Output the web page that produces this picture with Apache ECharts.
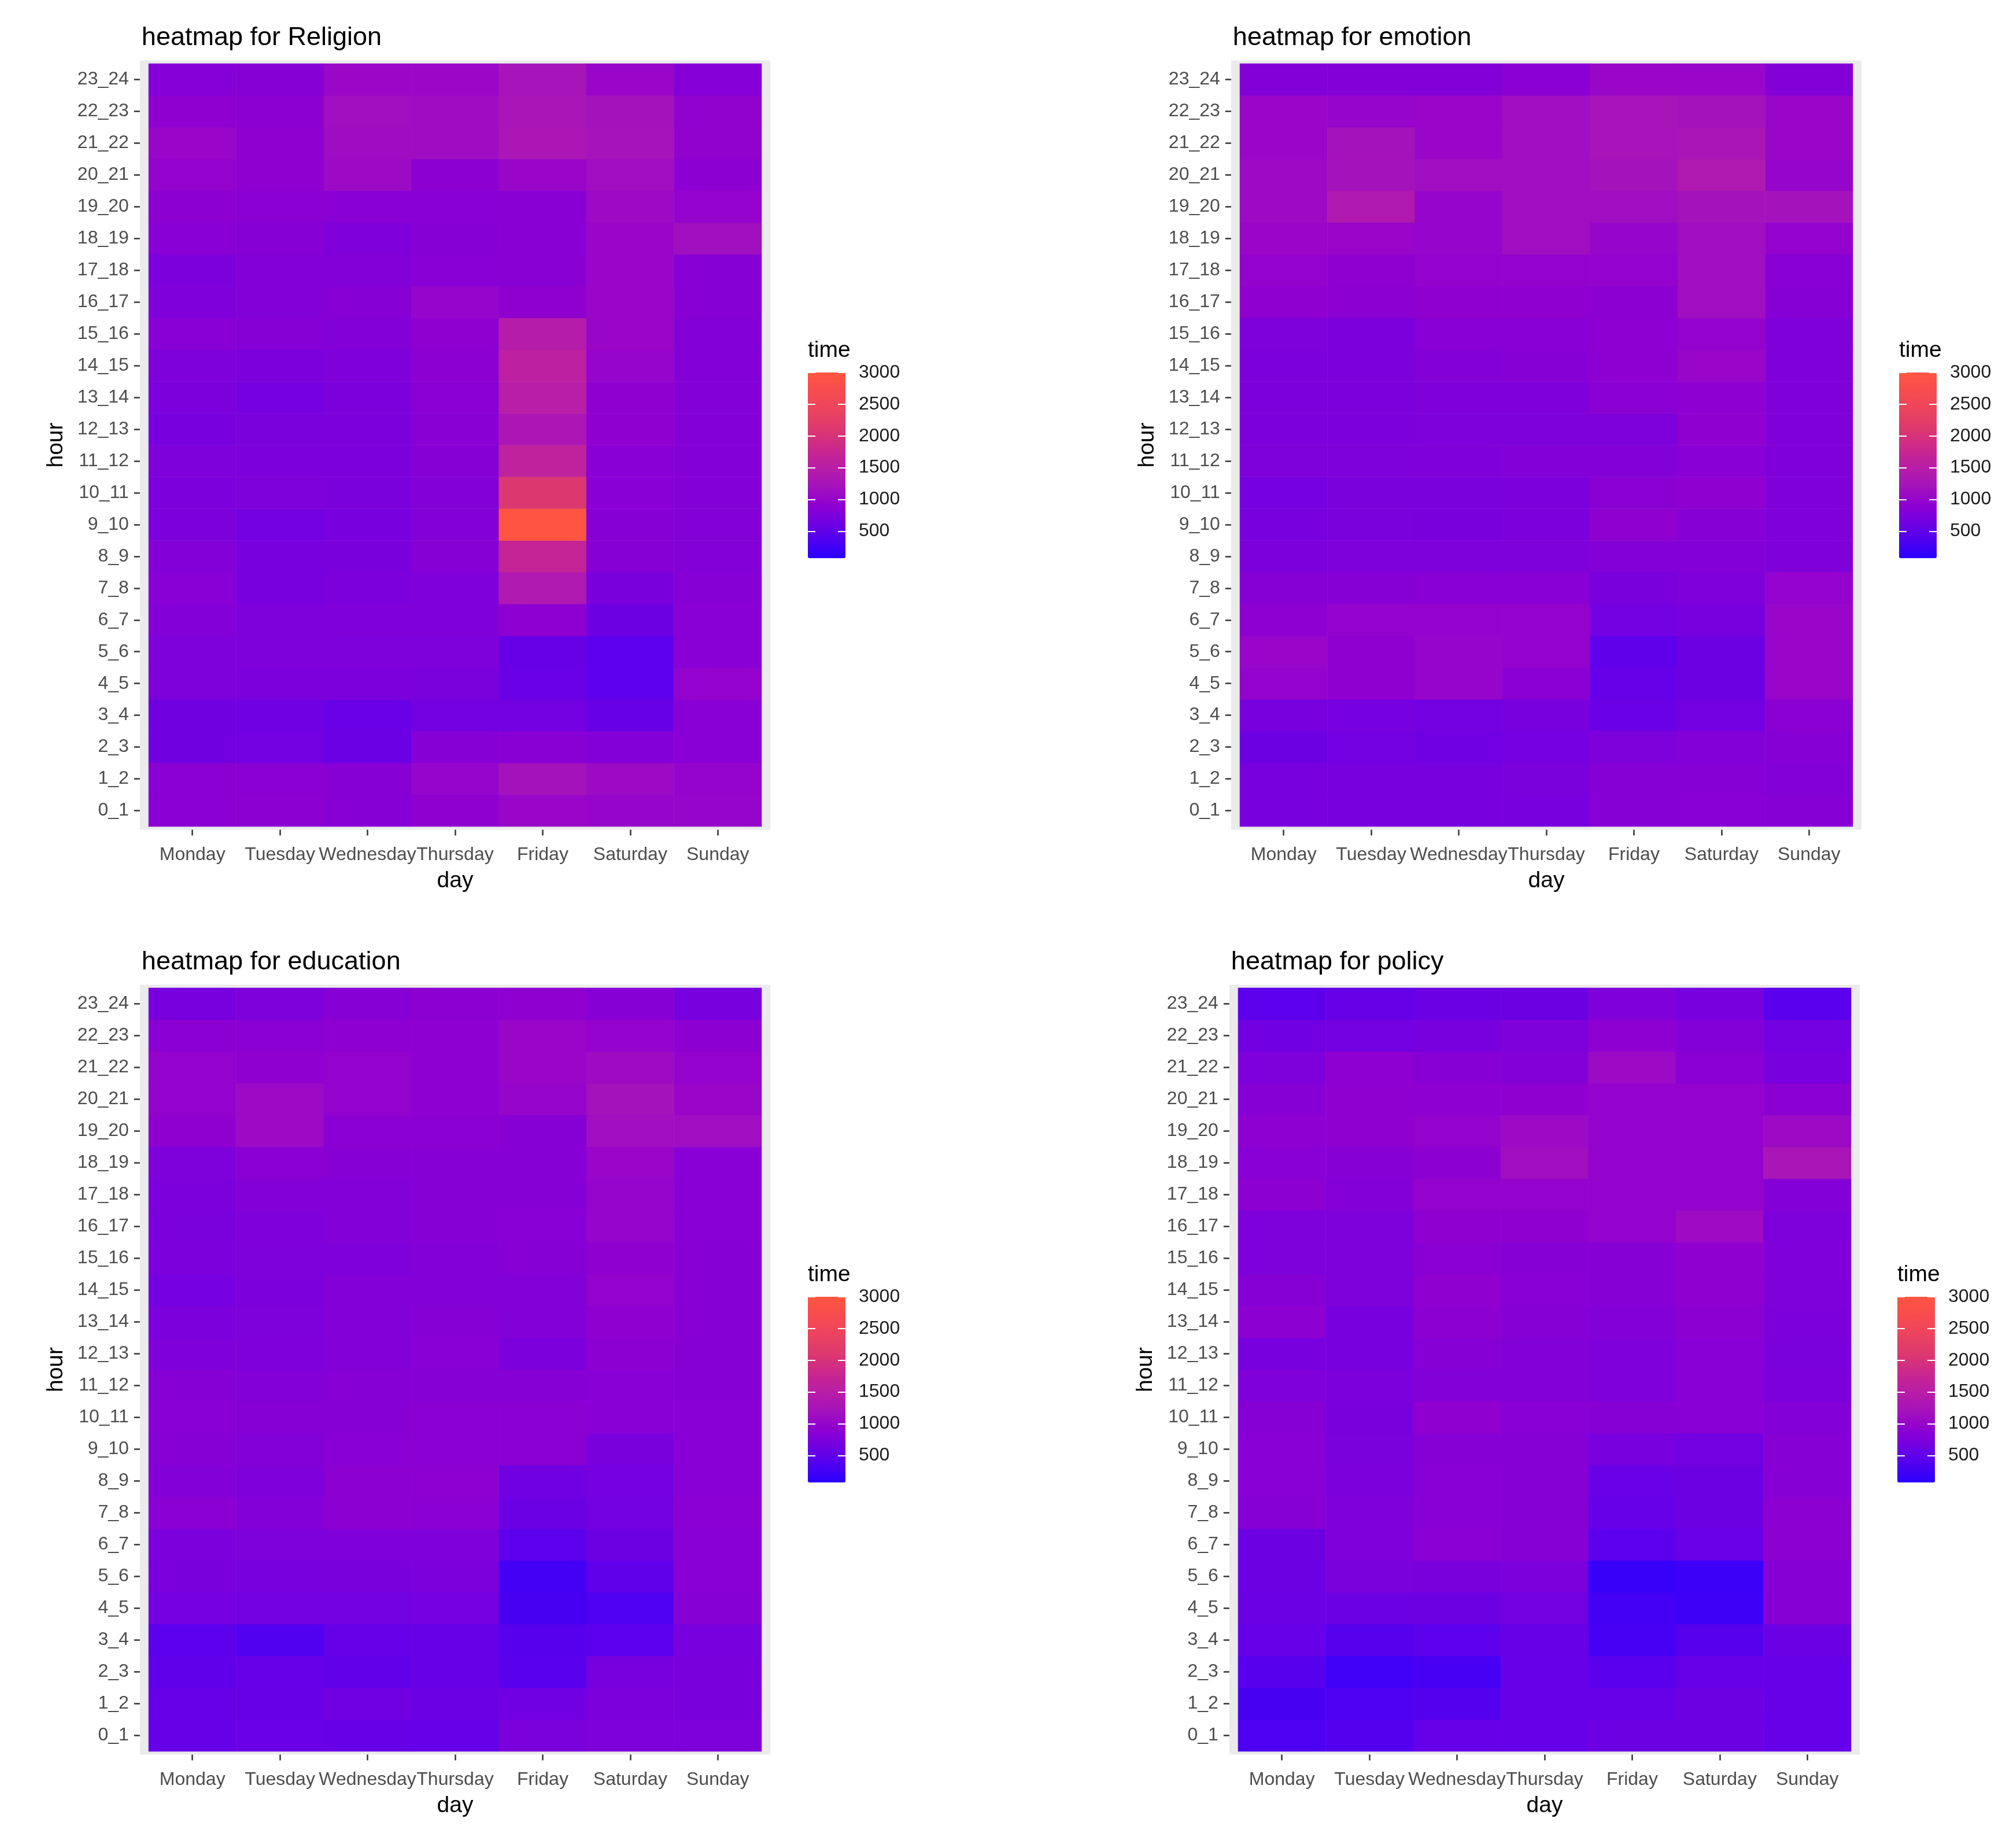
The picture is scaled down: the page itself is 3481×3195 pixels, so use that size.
<!DOCTYPE html>
<html>
<head>
<meta charset="utf-8">
<title>heatmaps by day and hour</title>
<script src="https://cdn.jsdelivr.net/npm/echarts@6/dist/echarts.min.js"></script>
<style>
  html, body { margin: 0; padding: 0; background: #ffffff; }
  #chart { width: 3481px; height: 3195px; }
</style>
</head>
<body>
<div id="chart"></div>
<script>
// categories
const days = ["Monday", "Tuesday", "Wednesday", "Thursday", "Friday", "Saturday", "Sunday"];
const hours = ["0_1", "1_2", "2_3", "3_4", "4_5", "5_6", "6_7", "7_8", "8_9", "9_10", "10_11", "11_12",
  "12_13", "13_14", "14_15", "15_16", "16_17", "17_18", "18_19", "19_20", "20_21", "21_22", "22_23", "23_24"];

// one row per hour (0_1 first), Monday .. Sunday
const religion = [
  [870, 890, 830, 930, 1040, 1000, 1000],
  [870, 870, 830, 1000, 1200, 1080, 990],
  [640, 660, 600, 830, 860, 810, 850],
  [640, 630, 580, 660, 660, 560, 850],
  [760, 740, 740, 720, 580, 470, 980],
  [760, 760, 760, 760, 560, 470, 850],
  [810, 760, 780, 780, 910, 610, 850],
  [850, 700, 740, 780, 1370, 710, 830],
  [810, 700, 710, 830, 1700, 830, 810],
  [740, 660, 700, 810, 2980, 830, 810],
  [740, 760, 720, 810, 2100, 850, 810],
  [760, 740, 740, 830, 1620, 850, 810],
  [700, 720, 740, 860, 1300, 930, 810],
  [740, 680, 740, 870, 1500, 930, 810],
  [760, 740, 780, 890, 1570, 1000, 810],
  [850, 830, 810, 930, 1450, 1040, 810],
  [770, 810, 830, 1000, 930, 1040, 830],
  [740, 810, 810, 850, 860, 1030, 830],
  [850, 830, 780, 830, 860, 1040, 1150],
  [900, 870, 850, 850, 860, 1080, 970],
  [980, 920, 1080, 890, 1040, 1140, 890],
  [1030, 920, 1120, 1120, 1300, 1230, 960],
  [930, 900, 1150, 1120, 1270, 1200, 960],
  [820, 830, 1050, 1050, 1250, 1020, 820]
];

const emotion = [
  [700, 700, 700, 700, 830, 850, 830],
  [700, 700, 700, 720, 830, 830, 810],
  [610, 660, 630, 680, 760, 810, 830],
  [700, 680, 660, 700, 580, 660, 870],
  [980, 930, 1000, 870, 530, 610, 1020],
  [1020, 930, 1000, 980, 490, 610, 1020],
  [910, 980, 980, 980, 660, 700, 1020],
  [830, 830, 850, 850, 710, 780, 980],
  [740, 760, 760, 760, 810, 810, 780],
  [700, 720, 710, 740, 930, 830, 780],
  [680, 720, 720, 740, 870, 930, 780],
  [760, 760, 780, 810, 810, 850, 780],
  [740, 740, 760, 760, 760, 930, 780],
  [740, 740, 780, 780, 870, 910, 780],
  [740, 740, 810, 830, 910, 1020, 780],
  [760, 740, 850, 850, 910, 980, 780],
  [930, 890, 930, 930, 890, 1140, 830],
  [980, 930, 980, 980, 980, 1140, 850],
  [1040, 1020, 1000, 1140, 1000, 1140, 980],
  [1080, 1370, 1000, 1140, 1140, 1200, 1200],
  [1080, 1200, 1140, 1140, 1200, 1370, 1000],
  [1040, 1200, 1040, 1140, 1260, 1270, 1040],
  [1040, 1000, 1020, 1140, 1260, 1200, 1040],
  [810, 810, 810, 870, 1040, 1020, 810]
];

const education = [
  [540, 580, 560, 530, 720, 760, 760],
  [530, 560, 630, 600, 630, 740, 710],
  [490, 530, 510, 560, 430, 700, 710],
  [460, 380, 530, 560, 410, 460, 700],
  [680, 660, 660, 680, 300, 360, 830],
  [710, 700, 710, 740, 270, 490, 850],
  [740, 760, 780, 780, 470, 610, 850],
  [870, 810, 890, 870, 600, 660, 870],
  [810, 780, 890, 910, 630, 680, 850],
  [830, 810, 850, 870, 870, 710, 850],
  [850, 830, 830, 870, 870, 850, 850],
  [830, 810, 830, 830, 830, 850, 830],
  [780, 780, 810, 850, 740, 890, 830],
  [740, 760, 810, 830, 810, 930, 830],
  [680, 740, 810, 810, 810, 980, 830],
  [740, 760, 780, 810, 830, 930, 830],
  [720, 780, 810, 830, 850, 1000, 850],
  [740, 810, 810, 830, 830, 1000, 850],
  [760, 870, 830, 830, 830, 1020, 850],
  [930, 1080, 870, 870, 830, 1140, 1140],
  [980, 1080, 980, 910, 1000, 1200, 1040],
  [980, 930, 980, 910, 1040, 1100, 980],
  [870, 870, 910, 910, 1040, 980, 890],
  [700, 760, 830, 890, 930, 830, 700]
];

const policy = [
  [350, 390, 530, 530, 610, 610, 530],
  [300, 350, 390, 530, 530, 610, 530],
  [410, 240, 290, 530, 440, 530, 530],
  [530, 420, 470, 560, 290, 420, 600],
  [600, 600, 610, 660, 270, 230, 830],
  [610, 720, 710, 740, 180, 210, 830],
  [610, 780, 870, 830, 460, 580, 890],
  [830, 780, 850, 830, 530, 610, 890],
  [850, 740, 850, 830, 580, 610, 830],
  [850, 720, 830, 830, 700, 660, 830],
  [830, 710, 930, 850, 830, 850, 810],
  [780, 740, 810, 810, 780, 850, 740],
  [700, 700, 830, 810, 780, 850, 720],
  [890, 700, 890, 830, 810, 890, 740],
  [830, 760, 930, 850, 830, 930, 760],
  [760, 760, 870, 830, 830, 930, 780],
  [760, 760, 930, 930, 980, 1100, 760],
  [890, 810, 980, 980, 980, 980, 810],
  [850, 830, 890, 1140, 980, 980, 1270],
  [910, 930, 980, 1080, 980, 980, 1080],
  [830, 930, 910, 930, 980, 980, 870],
  [760, 910, 830, 810, 1080, 870, 700],
  [630, 660, 700, 760, 910, 810, 660],
  [460, 540, 600, 610, 780, 700, 440]
];

// colour scale (time)
const scaleMin = 75;
const scaleMax = 3000;
const legendBreaks = [0, 500, 1000, 1500, 2000, 2500, 3000];

const FONT = "Liberation Sans, Arial, sans-serif";

// gradient stops
const rampStops = [
  [75, "#2800ff"], [270, "#4400f4"], [460, "#5c00ec"], [700, "#7800de"],
  [930, "#9000d0"], [1200, "#a412bc"], [1500, "#b81ea6"], [1700, "#c42396"],
  [2100, "#dc3870"], [2500, "#f0465a"], [3000, "#ff5540"]
];

function hexToRgb(h) {
  return [parseInt(h.slice(1, 3), 16), parseInt(h.slice(3, 5), 16), parseInt(h.slice(5, 7), 16)];
}

// evenly spaced colours for visualMap (it spreads colours evenly over min..max)
function buildRamp(n) {
  const out = [];
  for (let k = 0; k < n; k++) {
    const v = scaleMin + (scaleMax - scaleMin) * k / (n - 1);
    let j = 0;
    while (j < rampStops.length - 2 && v > rampStops[j + 1][0]) j++;
    const a = rampStops[j], b = rampStops[j + 1];
    const t = Math.min(1, Math.max(0, (v - a[0]) / (b[0] - a[0])));
    const ca = hexToRgb(a[1]), cb = hexToRgb(b[1]);
    const c = ca.map((x, i) => Math.round(x + (cb[i] - x) * t));
    out.push("rgb(" + c.join(",") + ")");
  }
  return out;
}
const ramp = buildRamp(118);

const panels = [
  { name: "Religion", values: religion, left: 257, top: 110, width: 1060, height: 1319 },
  { name: "emotion", values: emotion, left: 2144, top: 110, width: 1060, height: 1319 },
  { name: "education", values: education, left: 257, top: 1708, width: 1060, height: 1320 },
  { name: "policy", values: policy, left: 2141, top: 1708, width: 1060, height: 1320 }
];

const option = {
  animation: false,
  backgroundColor: "#ffffff",
  textStyle: { fontFamily: FONT },
  title: [],
  grid: [],
  xAxis: [],
  yAxis: [],
  series: [],
  visualMap: [],
  graphic: []
};

const barW = 65;
const barH = 321;
const axisH = barH * scaleMax / (scaleMax - scaleMin);

// axis line kept (so ticks draw) but invisible
const hiddenLine = { show: true, lineStyle: { opacity: 0 } };
const darkTick = { show: true, alignWithLabel: true, interval: 0, length: 10, lineStyle: { color: "#333333", width: 2.5 } };

panels.forEach((p, i) => {
  const colW = p.width / days.length;
  const rowH = p.height / hours.length;
  const padX = colW * 0.1;
  const padY = rowH * 0.1;

  option.title.push({
    text: "heatmap for " + p.name,
    left: p.left - padX + 3,
    top: p.top - 67,
    padding: 0,
    textStyle: { fontFamily: FONT, fontSize: 45, fontWeight: "normal", color: "#000000" }
  });

  // grey panel behind the tiles
  option.graphic.push({
    type: "rect",
    z: -10,
    shape: { x: p.left - padX, y: p.top - padY, width: p.width + 2 * padX, height: p.height + 2 * padY },
    style: { fill: "#ebebeb" }
  });

  option.grid.push({ left: p.left, top: p.top, width: p.width, height: p.height });

  option.xAxis.push({
    gridIndex: i,
    type: "category",
    data: days,
    offset: padY,
    axisLine: hiddenLine,
    axisTick: darkTick,
    axisLabel: { interval: 0, margin: 28, fontSize: 32, color: "#4d4d4d", fontFamily: FONT },
    splitLine: { show: false },
    name: "day",
    nameLocation: "middle",
    nameGap: 69,
    nameTextStyle: { fontSize: 39, color: "#000000", fontFamily: FONT }
  });

  option.yAxis.push({
    gridIndex: i,
    type: "category",
    data: hours,
    offset: padX,
    axisLine: hiddenLine,
    axisTick: darkTick,
    axisLabel: { interval: 0, margin: 19, fontSize: 32, color: "#4d4d4d", fontFamily: FONT, padding: [10, 0, 0, 0] },
    splitLine: { show: false },
    name: "hour",
    nameLocation: "middle",
    nameGap: 125,
    nameRotate: 90,
    nameTextStyle: { fontSize: 39, color: "#000000", fontFamily: FONT }
  });

  const data = [];
  p.values.forEach((row, h) => {
    row.forEach((v, d) => data.push([d, h, v]));
  });

  option.series.push({
    name: p.name,
    type: "heatmap",
    xAxisIndex: i,
    yAxisIndex: i,
    data: data,
    itemStyle: { borderWidth: 0 }
  });

  // colour bar
  const barLeft = p.left + p.width + 80;
  const barTop = p.top + 534;

  option.visualMap.push({
    type: "continuous",
    seriesIndex: i,
    min: scaleMin,
    max: scaleMax,
    calculable: false,
    orient: "vertical",
    left: barLeft,
    top: barTop,
    padding: 0,
    itemWidth: barW,
    itemHeight: barH,
    inRange: { color: ramp }
  });

  option.title.push({
    text: "time",
    left: barLeft,
    top: p.top + 477,
    padding: 0,
    textStyle: { fontFamily: FONT, fontSize: 39, fontWeight: "normal", color: "#000000" }
  });
});

// axes for the colour bars: white ticks and break labels
panels.forEach((p, i) => {
  const barLeft = p.left + p.width + 80;
  const barTop = p.top + 534;
  const g = option.grid.length;
  option.grid.push({ left: barLeft, top: barTop, width: barW, height: axisH, z: 10 });
  option.xAxis.push({ gridIndex: g, type: "value", show: false, min: 0, max: 1 });
  const tickStyle = { show: true, inside: true, length: 13, lineStyle: { color: "#ffffff", width: 2 } };
  option.yAxis.push({
    gridIndex: g, type: "value", position: "left", min: 0, max: 3000, interval: 500, z: 10,
    axisLine: hiddenLine, axisTick: tickStyle, axisLabel: { show: false }, splitLine: { show: false }
  });
  option.yAxis.push({
    gridIndex: g, type: "value", position: "right", min: 0, max: 3000, interval: 500, z: 10,
    axisLine: hiddenLine, axisTick: tickStyle, splitLine: { show: false },
    axisLabel: {
      margin: 23, fontSize: 32, color: "#1a1a1a", fontFamily: FONT,
      formatter: v => (legendBreaks.indexOf(v) > 0 ? String(v) : "")
    }
  });
});

const chart = echarts.init(document.getElementById("chart"));
chart.setOption(option);
</script>
</body>
</html>
